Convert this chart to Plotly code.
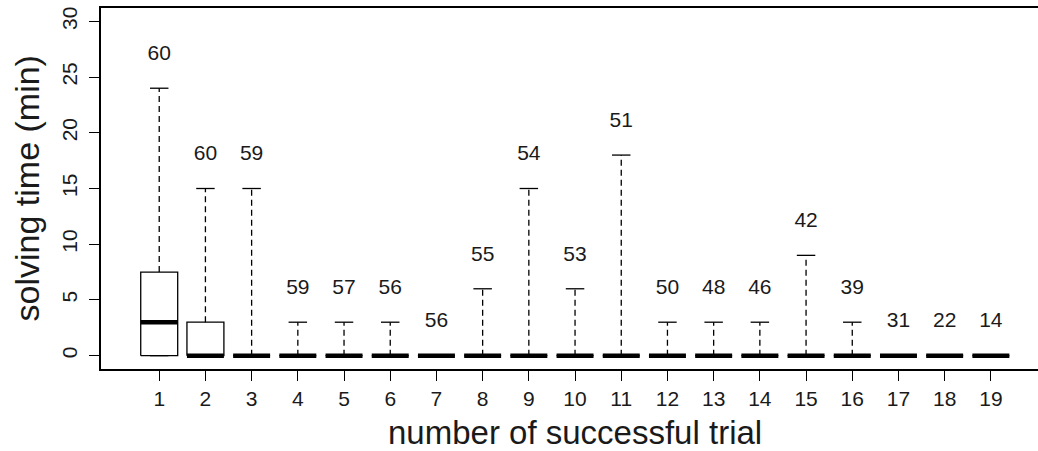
import plotly.graph_objects as go

# ---- data ----
trials = list(range(1, 20))
q1 = [0] * 19
medians = [3, 0, 0, 0, 0, 0, 0, 0, 0, 0, 0, 0, 0, 0, 0, 0, 0, 0, 0]
q3 = [7.5, 3, 0, 0, 0, 0, 0, 0, 0, 0, 0, 0, 0, 0, 0, 0, 0, 0, 0]
lower = [0] * 19
upper = [24, 15, 15, 3, 3, 3, 0, 6, 15, 6, 18, 3, 3, 3, 9, 3, 0, 0, 0]
counts = [60, 60, 59, 59, 57, 56, 56, 55, 54, 53, 51, 50, 48, 46, 42, 39, 31, 22, 14]
y_ticks = [0, 5, 10, 15, 20, 25, 30]

BW = 0.4   # half box width
CW = 0.2   # half cap width
FONT = "Liberation Sans, Arial, Helvetica, sans-serif"
TXT = "#1a1a1a"

box_x, box_y = [], []
med_x, med_y = [], []
wh_x, wh_y = [], []
cap_x, cap_y = [], []
for x, a, m, b, lo, hi in zip(trials, q1, medians, q3, lower, upper):
    box_x += [x - BW, x + BW, x + BW, x - BW, x - BW, None]
    box_y += [a, a, b, b, a, None]
    med_x += [x - BW, x + BW, None]
    med_y += [m, m, None]
    if hi > b:
        wh_x += [x, x, None]
        wh_y += [b, hi, None]
    if lo < a:
        wh_x += [x, x, None]
        wh_y += [a, lo, None]
    cap_x += [x - CW, x + CW, None, x - CW, x + CW, None]
    cap_y += [hi, hi, None, lo, lo, None]

fig = go.Figure()
fig.add_trace(go.Scatter(x=wh_x, y=wh_y, mode="lines",
                         line=dict(color="black", width=1.3, dash="6px,4px"),
                         hoverinfo="skip", showlegend=False))
fig.add_trace(go.Scatter(x=cap_x, y=cap_y, mode="lines",
                         line=dict(color="black", width=1.3),
                         hoverinfo="skip", showlegend=False))
fig.add_trace(go.Scatter(x=box_x, y=box_y, mode="lines",
                         line=dict(color="black", width=1.3),
                         hoverinfo="skip", showlegend=False))
fig.add_trace(go.Scatter(x=med_x, y=med_y, mode="lines",
                         line=dict(color="black", width=4.5),
                         hoverinfo="skip", showlegend=False))
fig.add_trace(go.Scatter(x=trials, y=[h + 3 for h in upper], mode="text",
                         text=[str(c) for c in counts],
                         textfont=dict(family=FONT, size=21, color=TXT),
                         textposition="middle center",
                         hoverinfo="skip", showlegend=False))

fig.update_layout(
    width=1038, height=451,
    margin=dict(l=101, r=0, t=8, b=82),
    paper_bgcolor="white", plot_bgcolor="white",
    font=dict(family=FONT, color=TXT),
    xaxis=dict(range=[-0.26, 20.02], tickmode="array", tickvals=trials,
               ticktext=[str(t) for t in trials],
               showgrid=False, zeroline=False, showline=True, mirror=True,
               linecolor="black", linewidth=1.5,
               ticks="outside", ticklen=10, tickwidth=1.3, tickcolor="black",
               tickfont=dict(family=FONT, size=21, color=TXT)),
    yaxis=dict(range=[-1.2, 31.2], tickmode="array", tickvals=y_ticks,
               ticktext=[str(t) for t in y_ticks], tickangle=-90,
               ticklabelstandoff=4,
               showgrid=False, zeroline=False, showline=True, mirror=False,
               linecolor="black", linewidth=1.5,
               ticks="outside", ticklen=10, tickwidth=1.3, tickcolor="black",
               tickfont=dict(family=FONT, size=21, color=TXT)),
    annotations=[
        dict(text="number of successful trial", xref="x", yref="paper",
             x=10.0, y=-0.175, xanchor="center", yanchor="middle",
             showarrow=False, font=dict(family=FONT, size=33, color=TXT)),
        dict(text="solving time (min)", xref="paper", yref="paper",
             x=-0.079, y=0.5, xanchor="center", yanchor="middle", textangle=-90,
             showarrow=False, font=dict(family=FONT, size=34, color=TXT)),
    ],
)

fig.write_html("out.html", config={"displayModeBar": False},
               post_script="document.body.style.margin='0';document.body.style.overflow='hidden';")
